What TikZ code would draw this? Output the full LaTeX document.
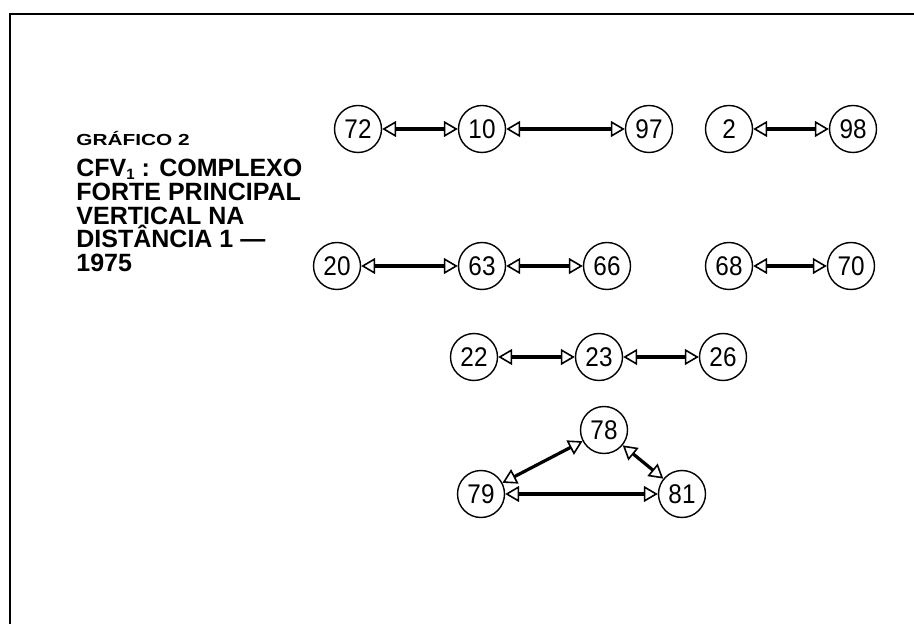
\documentclass[tikz,border=0pt]{standalone}
\usepackage{fontspec}
\setmainfont{Liberation Sans}
\newfontfamily\widefont[FakeStretch=1.3]{Liberation Sans}
\newfontfamily\numfont[FakeStretch=0.9]{Liberation Sans}
\usetikzlibrary{arrows.meta, positioning}

\begin{document}
\begin{tikzpicture}[
    x=0.5pt, y=-0.5pt,
    % 1. Vertices
    vert/.style={circle, draw, line width=0.7pt, minimum size=23.5pt, inner sep=0pt, font=\numfont\fontsize{13.5}{15}\selectfont},
    % 2. Strong links (double open triangle heads)
    link/.style={line width=1.6pt, {Triangle[open, length=7pt, width=8pt, line width=0.8pt]}-{Triangle[open, length=7pt, width=8pt, line width=0.8pt]}},
    % 3. Title text
    title/.style={font=\bfseries\fontsize{12.5}{11.8}\selectfont, align=left, inner sep=0pt}
]
\useasboundingbox (0,0) rectangle (914,624);

% Frame (only top and left edges visible)
\draw[line width=1pt] (10,624) -- (10,14) -- (914,14);

% ===============================
% Title
% ===============================
\node[anchor=base west, inner sep=0pt, font=\widefont\bfseries\fontsize{8}{9}\selectfont] (graf) at (76,146) {GRÁFICO 2};
\node[title, anchor=north west] (tit) at (76,159) {CFV\raisebox{-1.5pt}{\fontsize{7.5}{7.5}\selectfont 1} : COMPLEXO\\FORTE PRINCIPAL\\VERTICAL NA\\DISTÂNCIA 1 —\\1975};

% ===============================
% Row 1
% ===============================
\node[vert] (n72) at (358,129) {72};
\node[vert] (n10) at (482,129) {10};
\node[vert] (n97) at (649,129) {97};
\node[vert] (n2) at (729,129) {2};
\node[vert] (n98) at (853,129) {98};

\draw[link] (n72) -- (n10);
\draw[link] (n10) -- (n97);
\draw[link] (n2) -- (n98);

% ===============================
% Row 2
% ===============================
\node[vert] (n20) at (337,266) {20};
\node[vert] (n63) at (482,266) {63};
\node[vert] (n66) at (607,266) {66};
\node[vert] (n68) at (729,266) {68};
\node[vert] (n70) at (851,266) {70};

\draw[link] (n20) -- (n63);
\draw[link] (n63) -- (n66);
\draw[link] (n68) -- (n70);

% ===============================
% Row 3
% ===============================
\node[vert] (n22) at (474,357) {22};
\node[vert] (n23) at (599,357) {23};
\node[vert] (n26) at (723,357) {26};

\draw[link] (n22) -- (n23);
\draw[link] (n23) -- (n26);

% ===============================
% Triangle
% ===============================
\node[vert] (n78) at (604,430) {78};
\node[vert] (n79) at (481,494) {79};
\node[vert] (n81) at (682,494) {81};

\draw[link] (n78) -- (n79);
\draw[link] (n78) -- (n81);
\draw[link] (n79) -- (n81);

\end{tikzpicture}
\end{document}
